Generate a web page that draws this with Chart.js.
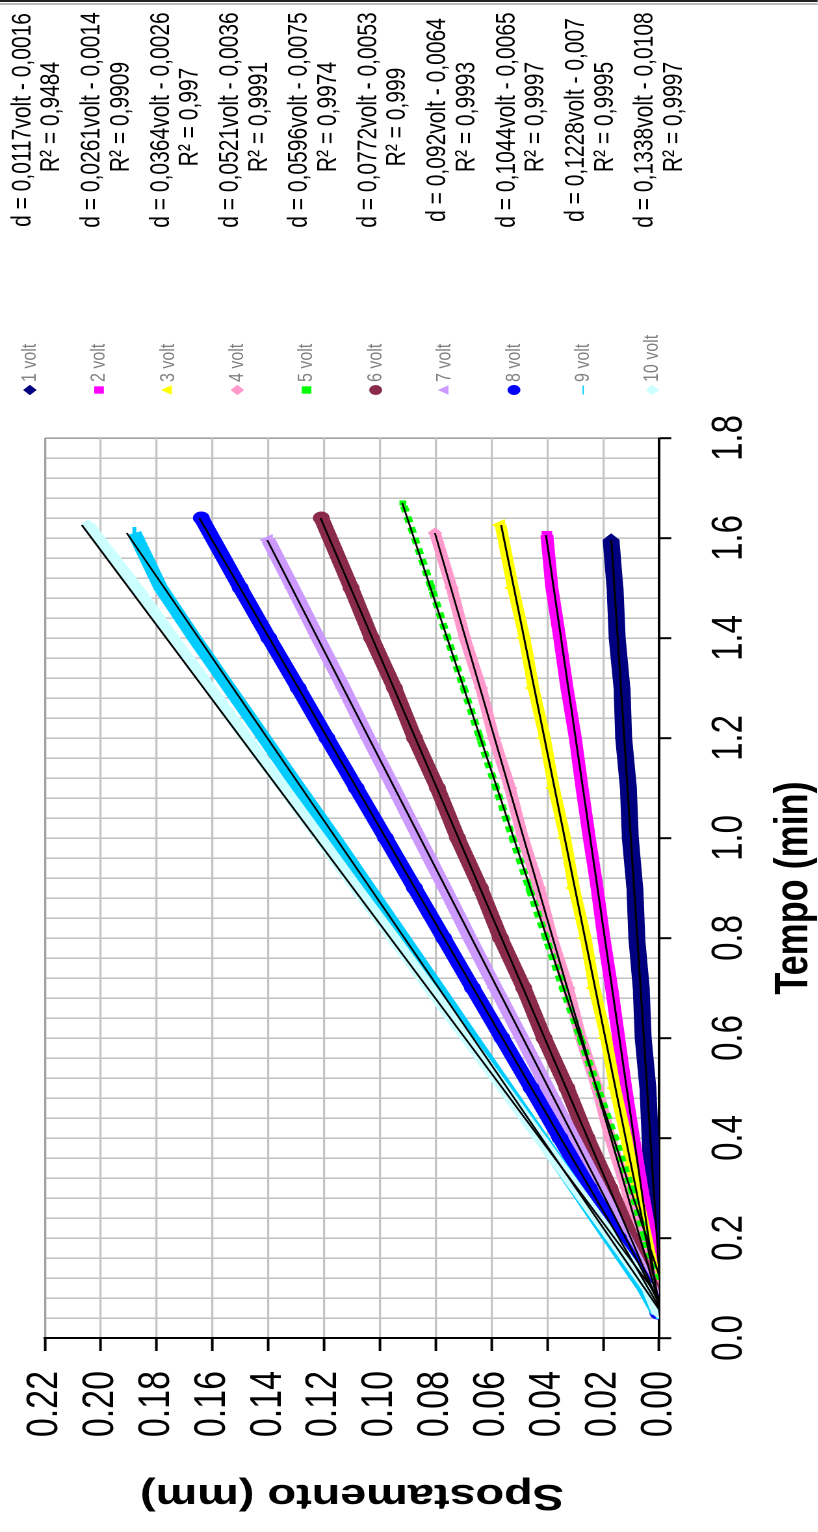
<!DOCTYPE html>
<html>
<head>
<meta charset="utf-8">
<script src="https://cdn.jsdelivr.net/npm/chart.js@4.4.0/dist/chart.umd.min.js"></script>
<style>
    html, body { margin: 0; padding: 0; background: #fff; }
    body { width: 818px; height: 1532px; overflow: hidden; position: relative; }
    /* il grafico originale è ruotato di 90° e stirato in verticale */
    #ruota {
        position: absolute; left: 0; top: 1532px;
        width: 1532px; height: 629px;
        transform-origin: 0 0;
        transform: rotate(-90deg) scaleY(1.3);
    }
</style>
</head>
<body>
<div id="ruota"><canvas id="grafico" width="1532" height="629"></canvas></div>
<script>
// Tempi di campionamento (min)
const tempo = [0.05, 0.1, 0.2, 0.3, 0.4, 0.5, 0.6, 0.7, 0.8, 0.9, 1.0, 1.1, 1.2, 1.3, 1.4, 1.5];
// Tempo dell'ultimo punto di ogni serie
const tempoFinale = [1.596, 1.606, 1.626, 1.61, 1.67, 1.64, 1.596, 1.64, 1.61, 1.626];

// Spostamento (mm): 16 valori su "tempo" + ultimo punto
const volt1  = [0.0000, 0.0000, 0.0012, 0.0025, 0.0032, 0.0040, 0.0057, 0.0064, 0.0080, 0.0087, 0.0103, 0.0110, 0.0127, 0.0133, 0.0150, 0.0158, 0.0172];
const volt2  = [0.0000, 0.0005, 0.0030, 0.0062, 0.0092, 0.0120, 0.0145, 0.0170, 0.0198, 0.0222, 0.0250, 0.0276, 0.0300, 0.0330, 0.0356, 0.0384, 0.0402];
const volt3  = [0.0000, 0.0008, 0.0045, 0.0085, 0.0118, 0.0158, 0.0190, 0.0232, 0.0263, 0.0305, 0.0336, 0.0377, 0.0409, 0.0450, 0.0482, 0.0523, 0.0568];
const volt4  = [0.0000, 0.0015, 0.0070, 0.0118, 0.0175, 0.0222, 0.0280, 0.0326, 0.0384, 0.0430, 0.0488, 0.0534, 0.0592, 0.0638, 0.0696, 0.0743, 0.0803];
const volt5  = [0.0000, 0.0008, 0.0050, 0.0100, 0.0158, 0.0220, 0.0282, 0.0345, 0.0405, 0.0466, 0.0525, 0.0584, 0.0642, 0.0700, 0.0758, 0.0815, 0.0918];
const volt6  = [0.0002, 0.0025, 0.0100, 0.0176, 0.0258, 0.0330, 0.0412, 0.0485, 0.0568, 0.0640, 0.0722, 0.0794, 0.0876, 0.0948, 0.1030, 0.1103, 0.1210];
const volt7  = [0.0003, 0.0030, 0.0122, 0.0215, 0.0308, 0.0400, 0.0492, 0.0586, 0.0678, 0.0768, 0.0860, 0.0950, 0.1042, 0.1130, 0.1222, 0.1312, 0.1400];
const volt8  = [0.0004, 0.0040, 0.0145, 0.0250, 0.0355, 0.0458, 0.0563, 0.0668, 0.0772, 0.0876, 0.0980, 0.1085, 0.1190, 0.1293, 0.1398, 0.1500, 0.1640];
const volt9  = [0.0005, 0.0055, 0.0178, 0.0300, 0.0422, 0.0546, 0.0670, 0.0793, 0.0916, 0.1040, 0.1163, 0.1290, 0.1415, 0.1540, 0.1665, 0.1785, 0.1880];
const volt10 = [0.0003, 0.0040, 0.0168, 0.0298, 0.0428, 0.0558, 0.0690, 0.0822, 0.0952, 0.1085, 0.1215, 0.1345, 0.1478, 0.1610, 0.1742, 0.1872, 0.2046];
const serie = [volt1, volt2, volt3, volt4, volt5, volt6, volt7, volt8, volt9, volt10];

// Linee di tendenza: estremi (tempo, spostamento)
const trendInizio = 0.04;
const trendValInizio = [-0.0011, -0.0004, -0.0011, -0.0015, -0.0051, -0.0022, -0.0027, -0.0023, -0.0021, -0.0054];
const trendValFine   = [0.0171, 0.0405, 0.0566, 0.0803, 0.0920, 0.1213, 0.1404, 0.1647, 0.1907, 0.2068];

const etichette = ['1 volt', '2 volt', '3 volt', '4 volt', '5 volt', '6 volt', '7 volt', '8 volt', '9 volt', '10 volt'];
const equazioni = [
    'd = 0,0117volt - 0,0016', 'd = 0,0261volt - 0,0014', 'd = 0,0364volt - 0,0026',
    'd = 0,0521volt - 0,0036', 'd = 0,0596volt - 0,0075', 'd = 0,0772volt - 0,0053',
    'd = 0,092volt - 0,0064', 'd = 0,1044volt - 0,0065', 'd = 0,1228volt - 0,007',
    'd = 0,1338volt - 0,0108'
];
const erre2 = ['0,9484', '0,9909', '0,997', '0,9991', '0,9974', '0,999', '0,9993', '0,9997', '0,9995', '0,9997'];

// Stili
const colori = ['#000080', '#FF00FF', '#FFFF00', '#FF99CC', '#00FF00', '#8B2B4B', '#CC99FF', '#0000FF', '#00CCFF', '#CCFFFF'];
const simboli = ['rectRot', 'rect', 'triangle', 'rectRot', 'rect', 'circle', 'triangle', 'circle', 'line', 'rectRot'];
const raggi = [6, 5, 6, 5, 3, 6, 6, 6, 6, 5];
const spessori = [13, 10, 9, 9, 6, 12, 11, 12, 11, 10];

const FONT = '"Liberation Sans", Arial, sans-serif';

function isMaggiore(v) {
    return Math.abs(v * 5 - Math.round(v * 5)) < 1e-6;
}

const datasets = [];
serie.forEach((valori, i) => {
    const punti = tempo.map((t, k) => ({ x: t, y: valori[k] }));
    punti.push({ x: tempoFinale[i], y: valori[valori.length - 1] });
    datasets.push({
        label: etichette[i],
        data: punti,
        showLine: true,
        borderColor: colori[i],
        backgroundColor: colori[i],
        borderWidth: spessori[i],
        borderDash: i === 4 ? [6, 5] : [],
        borderCapStyle: 'butt',
        borderJoinStyle: 'round',
        pointStyle: simboli[i],
        pointRadius: raggi[i],
        pointBorderWidth: simboli[i] === 'line' ? 3 : 1,
        pointBorderColor: colori[i],
        pointBackgroundColor: colori[i],
        order: 20 - i
    });
});
serie.forEach((valori, i) => {
    datasets.push({
        label: 'tendenza ' + etichette[i],
        data: [{ x: trendInizio, y: trendValInizio[i] }, { x: tempoFinale[i], y: trendValFine[i] }],
        showLine: true,
        borderColor: '#000',
        borderWidth: 1.5,
        pointRadius: 0,
        order: 1
    });
});

// Legenda, equazioni, titoli e cornice
const testiExtra = {
    id: 'testiExtra',
    afterDraw(chart) {
        const ctx = chart.ctx;
        const area = chart.chartArea;
        ctx.save();
        ctx.fillStyle = '#000';
        ctx.font = 'bold 36px ' + FONT;
        ctx.textAlign = 'center';
        ctx.textBaseline = 'middle';
        ctx.fillText('Tempo (min)', (area.left + area.right) / 2, 611);
        ctx.save();
        ctx.translate(37, (area.top + area.bottom) / 2);
        ctx.rotate(-Math.PI / 2);
        ctx.fillText('Spostamento (mm)', 0, 0);
        ctx.restore();

        const passo = 53.2;
        for (let i = 0; i < etichette.length; i++) {
            const y = 23 + i * passo;
            ctx.fillStyle = colori[i];
            ctx.strokeStyle = colori[i];
            Chart.helpers.drawPoint(ctx, {
                pointStyle: simboli[i], rotation: 0, radius: 4.5,
                borderWidth: simboli[i] === 'line' ? 3 : 1
            }, 1142, y);
            ctx.fillStyle = '#808080';
            ctx.font = '16px ' + FONT;
            ctx.textAlign = 'left';
            ctx.fillText(etichette[i], 1150, y);

            ctx.fillStyle = '#000';
            ctx.font = '21px ' + FONT;
            ctx.textAlign = 'center';
            ctx.fillText(equazioni[i], 1412, y - 5.4);
            ctx.fillText('R² = ' + erre2[i], 1415, y + 16.9);
        }

        ctx.fillStyle = '#777';
        ctx.fillRect(1527.5, 0, 1, chart.height);
        ctx.fillStyle = '#222';
        ctx.fillRect(1530, 0, 2, chart.height);
        ctx.restore();
    }
};

const ctx = document.getElementById('grafico').getContext('2d');
const grafico = new Chart(ctx, {
    type: 'scatter',
    data: { datasets: datasets },
    options: {
        responsive: false,
        devicePixelRatio: 2,
        animation: false,
        events: [],
        layout: { padding: { left: 0, right: 438, top: 34.6, bottom: 0 } },
        plugins: {
            legend: { display: false },
            tooltip: { enabled: false }
        },
        scales: {
            x: {
                type: 'linear',
                position: 'bottom',
                min: 0,
                max: 1.8,
                afterFit: (scale) => {
                    scale.height = 122;
                    scale.paddingLeft = 0;
                    scale.paddingRight = 0;
                },
                ticks: {
                    stepSize: 0.04,
                    maxTicksLimit: 100,
                    autoSkip: false,
                    maxRotation: 0,
                    padding: 25,
                    color: '#000',
                    font: { family: FONT, size: 33 },
                    callback: (v) => isMaggiore(v) ? v.toFixed(1) : ''
                },
                grid: {
                    color: (c) => (c.tick && Math.abs(c.tick.value - 1.8) < 1e-6) ? '#a0a0a0' : '#c4c4c4',
                    lineWidth: 1.6,
                    tickLength: 9.4,
                    tickWidth: 2,
                    tickColor: (c) => (c.tick && isMaggiore(c.tick.value)) ? '#000' : 'rgba(0,0,0,0)'
                },
                border: { display: true, color: '#000', width: 2 }
            },
            y: {
                type: 'linear',
                min: 0,
                max: 0.22,
                afterFit: (scale) => {
                    scale.width = 194;
                    scale.paddingTop = 0;
                    scale.paddingBottom = 0;
                },
                ticks: {
                    stepSize: 0.02,
                    autoSkip: false,
                    padding: 20,
                    color: '#000',
                    font: { family: FONT, size: 34 },
                    callback: (v) => v.toFixed(2)
                },
                grid: {
                    color: (c) => (c.tick && Math.abs(c.tick.value - 0.22) < 1e-6) ? '#a0a0a0' : '#c4c4c4',
                    lineWidth: 1.6,
                    tickLength: 13,
                    tickWidth: 2,
                    tickColor: '#000'
                },
                border: { display: true, color: '#000', width: 2 }
            }
        }
    },
    plugins: [testiExtra]
});
</script>
</body>
</html>
